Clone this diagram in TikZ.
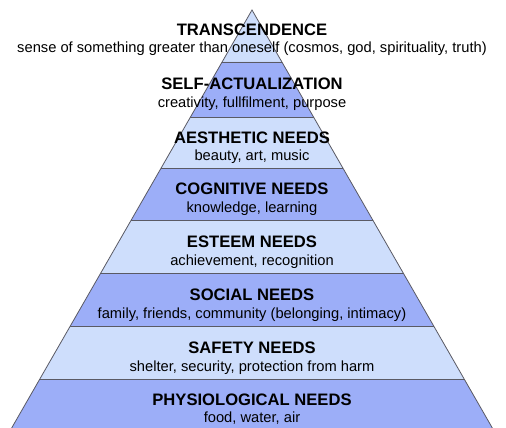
\documentclass[tikz,border=0pt]{standalone}
\usepackage{fontspec}
\setmainfont{Liberation Sans}
\definecolor{lightband}{RGB}{206,222,252}
\definecolor{darkband}{RGB}{156,174,248}
\definecolor{edgegray}{RGB}{90,90,100}
\begin{document}
\begin{tikzpicture}[x=1pt, y=-1pt,
	need/.style={font=\fontsize{16.6}{18}\selectfont\bfseries, inner sep=0pt, anchor=base},
	note/.style={font=\fontsize{14.7}{16}\selectfont, inner sep=0pt, anchor=base}]
	\useasboundingbox (0,0) rectangle (506,428);
	\coordinate (apex) at (252,10);
	\coordinate (baseL) at ({252-0.575*418},428);
	\coordinate (baseR) at ({252+0.575*418},428);
	% bands of the pyramid, top to bottom
	\foreach \ya/\yb/\col in {10/62/lightband, 62/117/darkband, 117/168/lightband, 168/220/darkband, 220/273/lightband, 273/326/darkband, 326/379/lightband, 379/428/darkband}
		\fill[\col] ({252-0.575*(\ya-10)},\ya) -- ({252+0.575*(\ya-10)},\ya) -- ({252+0.575*(\yb-10)},\yb) -- ({252-0.575*(\yb-10)},\yb) -- cycle;
	\foreach \y in {62,117,168,220,273,326,379}
		\draw[edgegray, line width=0.9pt] ({252-0.575*(\y-10)},\y) -- ({252+0.575*(\y-10)},\y);
	\draw[edgegray, line width=0.8pt] (baseL) -- (apex) -- (baseR);
	% labels
	\node[need] (trans) at (252,36) {TRANSCENDENCE};
	\node[note] (transnote) at (252,53) {sense of something greater than oneself (cosmos, god, spirituality, truth)};
	\node[need] (self) at (252,89) {SELF-ACTUALIZATION};
	\node[note] (selfnote) at (252,107) {creativity, fullfilment, purpose};
	\node[need] (aesth) at (252,143) {AESTHETIC NEEDS};
	\node[note] (aesthnote) at (252,160) {beauty, art, music};
	\node[need] (cogn) at (252,194) {COGNITIVE NEEDS};
	\node[note] (cognnote) at (252,212) {knowledge, learning};
	\node[need] (esteem) at (252,247) {ESTEEM NEEDS};
	\node[note] (esteemnote) at (252,265) {achievement, recognition};
	\node[need] (social) at (252,300) {SOCIAL NEEDS};
	\node[note] (socialnote) at (252,318) {family, friends, community (belonging, intimacy)};
	\node[need] (safety) at (252,353) {SAFETY NEEDS};
	\node[note] (safetynote) at (252,371) {shelter, security, protection from harm};
	\node[need] (phys) at (252,405) {PHYSIOLOGICAL NEEDS};
	\node[note] (physnote) at (252,422) {food, water, air};
\end{tikzpicture}
\end{document}
